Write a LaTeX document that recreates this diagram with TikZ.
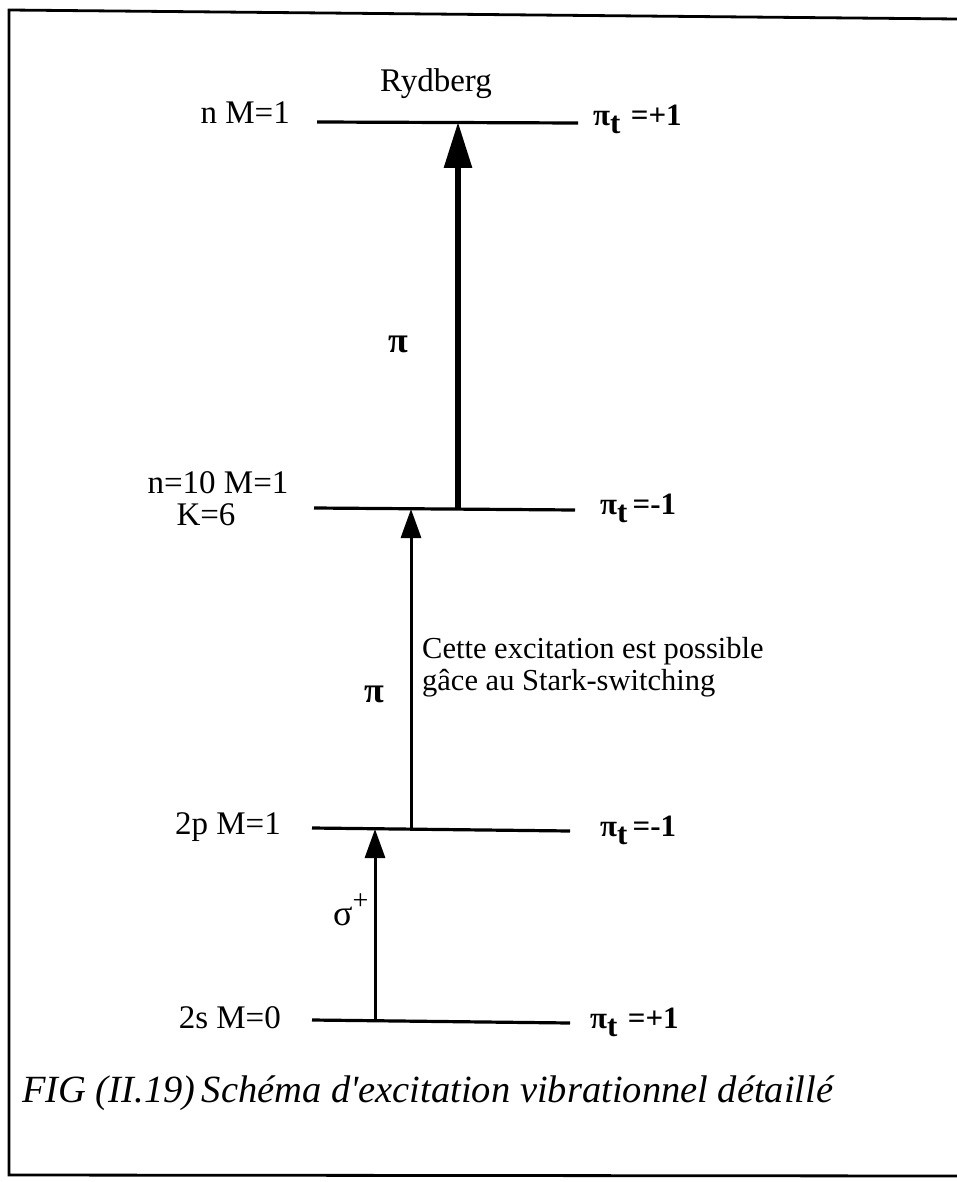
\documentclass[tikz,border=0pt]{standalone}
\usepackage{fontspec}
\setmainfont{Liberation Serif}
\usetikzlibrary{arrows.meta}
\begin{document}
\begin{tikzpicture}[x=1pt,y=-1pt,
  lbl/.style={inner sep=0pt,font=\fontsize{33}{36}\selectfont},
  parity/.style={inner sep=0pt,font=\fontsize{31}{34}\selectfont\bfseries},
  greek/.style={inner sep=0pt,font=\fontsize{36}{40}\selectfont},
  note/.style={inner sep=0pt,font=\fontsize{30.5}{32}\selectfont,align=left},
  caption/.style={inner sep=0pt,font=\fontsize{38.5}{44}\selectfont\itshape},
  level/.style={line width=3.2pt},
  frame/.style={line width=2.8pt},
  bigarrow/.style={line width=6pt,-{Triangle[width=27pt,length=46pt]}},
  smallarrow/.style={line width=3pt,-{Triangle[width=20pt,length=29pt]}}
]
\useasboundingbox (0,0) rectangle (957,1182);
% frame
\coordinate (fTL) at (9,10);
\coordinate (fTR) at (957,19);
\coordinate (fBL) at (9,1175);
\coordinate (fBR) at (957,1176);
\draw[frame] (fTR) -- (fTL) -- (fBL) -- (fBR);

% levels
\coordinate (L1a) at (317,122); \coordinate (L1b) at (578,123);
\coordinate (L2a) at (314,508); \coordinate (L2b) at (575,510);
\coordinate (L3a) at (312,828); \coordinate (L3b) at (570,831);
\coordinate (L4a) at (312,1020); \coordinate (L4b) at (570,1023);
\draw[level] (L1a) -- (L1b);
\draw[level] (L2a) -- (L2b);
\draw[level] (L3a) -- (L3b);
\draw[level] (L4a) -- (L4b);

% left labels
\node[lbl,anchor=base] (ryd) at (436,92) {Rydberg};
\node[lbl,anchor=base east] (lab1) at (290,124) {n M=1};
\node[lbl,anchor=base] (lab2) at (218,493) {n=10 M=1};
\node[lbl,anchor=base] (lab2k) at (206,525) {K=6};
\node[lbl,anchor=base east] (lab3) at (281,834) {2p M=1};
\node[lbl,anchor=base east] (lab4) at (281,1028) {2s M=0};

% right labels
\node[parity,anchor=base west] (p1) at (593,126) {π\raisebox{-8pt}{t}\,\,=+1};
\node[parity,anchor=base west] (p2) at (600,514) {π\raisebox{-8pt}{t}\,=-1};
\node[parity,anchor=base west] (p3) at (600,836) {π\raisebox{-8pt}{t}\,=-1};
\node[parity,anchor=base west] (p4) at (590,1028) {π\raisebox{-8pt}{t}\,\,=+1};

% arrows
\coordinate (a1s) at (458,509); \coordinate (a1e) at (458,122);
\coordinate (a2s) at (411,829); \coordinate (a2e) at (411,509);
\coordinate (a3s) at (375,1021); \coordinate (a3e) at (375,829);
\draw[bigarrow] (a1s) -- (a1e);
\draw[smallarrow] (a2s) -- (a2e);
\draw[smallarrow] (a3s) -- (a3e);

% transition labels
\node[greek,anchor=base] (pi1) at (398,352) {\textbf{π}};
\node[greek,anchor=base] (pi2) at (374,702) {\textbf{π}};
\node[greek,anchor=base west] (sig) at (333,925) {σ\raisebox{16pt}{\fontsize{28}{30}\selectfont +}};
\node[note,anchor=base west] (n1) at (422,658) {Cette excitation est possible};
\node[note,anchor=base west] (n2) at (422,690) {gâce au Stark-switching};

% caption
\node[caption,anchor=base west] (cap) at (22,1102) {FIG (II.19)\,Schéma d\textquotesingle excitation vibrationnel détaillé};
\end{tikzpicture}
\end{document}
